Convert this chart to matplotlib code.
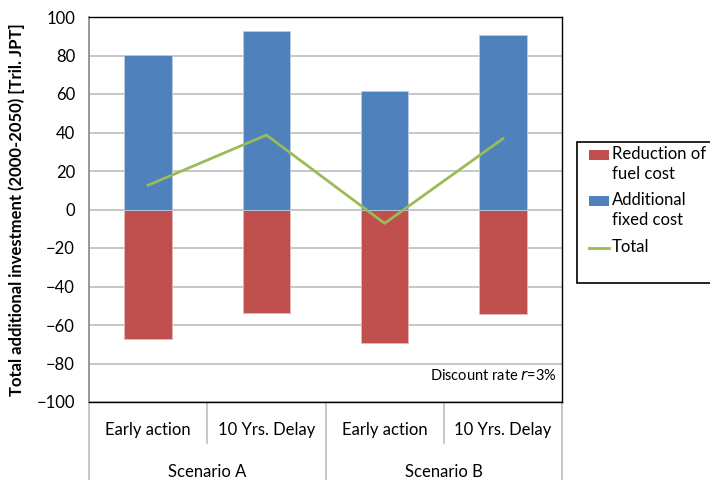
import matplotlib
matplotlib.use('Agg')
import matplotlib.pyplot as plt
from matplotlib.lines import Line2D
from matplotlib.patches import Rectangle
import numpy as np

plt.rcParams['font.family'] = ['Lato', 'DejaVu Sans']

# data (trillion JPY, 2000-2050, r=3%)
cases = ['Early action', '10 Yrs. Delay', 'Early action', '10 Yrs. Delay']
scenarios = ['Scenario A', 'Scenario B']
fixed_cost = [80.3, 92.6, 61.3, 90.8]
fuel_reduction = [-67.5, -53.8, -69.1, -54.3]
total = [12.6, 38.7, -7.2, 36.8]

RED = '#C0504D'
BLUE = '#4F81BD'
GREEN = '#9BBB59'
GRID = '#BEBEBE'

fig = plt.figure(figsize=(7.1, 4.8), dpi=100)
ax = fig.add_axes([89/710, 78/480, 473/710, 385/480])

x = np.arange(len(cases))
ax.bar(x, fuel_reduction, 0.4, color=RED, edgecolor='#E6B8B7', linewidth=0.6, zorder=3)
ax.bar(x, fixed_cost, 0.4, color=BLUE, edgecolor='#B9CDE5', linewidth=0.6, zorder=3)
ax.plot(x, total, color=GREEN, linewidth=2, zorder=4)

ax.set_xlim(-0.5, len(cases) - 0.5)
ax.set_ylim(-100, 100)
ax.set_yticks(np.arange(-100, 101, 20))
ax.tick_params(axis='y', labelsize=12, length=0, pad=10)
ax.set_xticks([])
ax.grid(axis='y', color=GRID, linewidth=1.2, zorder=0)
for s in ['top', 'right', 'bottom']:
    ax.spines[s].set_color('black')
    ax.spines[s].set_linewidth(1)
ax.spines['left'].set_color('#868686')
ax.spines['left'].set_linewidth(1.2)

ax.set_ylabel('Total additional investment (2000-2050) [Tril. JPT]',
              fontsize=12, fontweight='bold')
ax.yaxis.set_label_coords(-0.135, 0.5)

ax.text(0.99, 0.068, 'Discount rate $r$=3%', transform=ax.transAxes,
        ha='right', va='center', fontsize=10.5)

# two-level category axis
trans = ax.get_xaxis_transform()
for i, c in enumerate(cases):
    ax.text(i, -0.073, c, transform=trans, ha='center', va='center', fontsize=12)
for j, s in enumerate(scenarios):
    ax.text(2 * j + 0.5, -0.182, s, transform=trans, ha='center', va='center', fontsize=12)
for b in np.arange(-0.5, len(cases), 1.0):
    major = abs((b + 0.5) % 2) < 1e-9
    y_end = -0.21 if major else -0.106
    ax.add_line(Line2D([b, b], [0, y_end], transform=trans,
                       color=GRID, linewidth=1.2, clip_on=False))

# legend box, running off the right edge
px = lambda x0, y0: (x0 / 710, 1 - y0 / 480)
fig.patches.append(Rectangle(px(577, 283), 140/710, 141/480,
                             transform=fig.transFigure, facecolor='white',
                             edgecolor='black', linewidth=1.2))
entries = [('Reduction of\nfuel cost', RED, 'patch', 155),
           ('Additional\nfixed cost', BLUE, 'patch', 201),
           ('Total', GREEN, 'line', 248)]
for label, color, kind, yc in entries:
    if kind == 'patch':
        fig.patches.append(Rectangle(px(589, yc + 5), 20/710, 10/480,
                                     transform=fig.transFigure, facecolor=color,
                                     edgecolor='none'))
    else:
        fig.lines.append(Line2D([589/710, 609/710], [1 - yc/480] * 2,
                                transform=fig.transFigure, color=color, linewidth=2))
    fig.text(*px(612, yc - 9), label, ha='left', va='top', fontsize=12,
             linespacing=1.3)

fig.savefig('out.png', dpi=100)
